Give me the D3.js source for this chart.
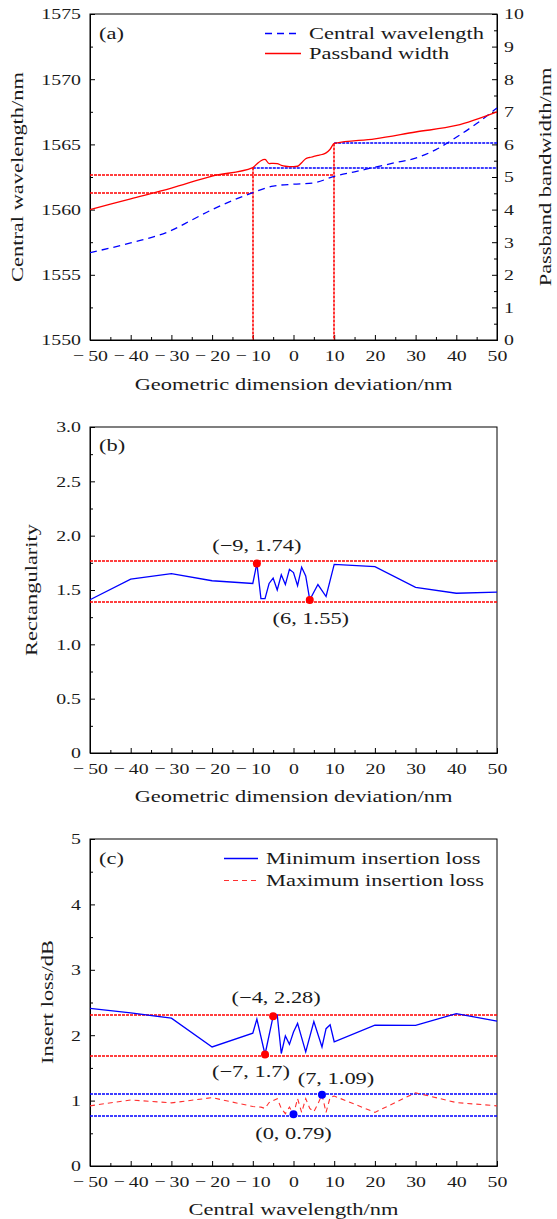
<!DOCTYPE html>
<html>
<head>
<meta charset="utf-8">
<script src="https://cdn.jsdelivr.net/npm/d3@7"></script>
<style>
body { margin: 0; background: #fff; }
svg text { font-family: "Liberation Serif", serif; font-size: 16.5px; fill: #1a1a1a; }
svg .tick text { font-size: 15.5px; }
</style>
</head>
<body>
<div id="chart"></div>
<script>

// ---- data, panel (a)
var wlX = [-50, -40, -30, -25, -20, -15, -10, -5, 0, 5, 10, 15, 20, 25, 30, 35, 40, 45, 50];
var wlY = [1556.7, 1557.45, 1558.4, 1559.2, 1560.0, 1560.7, 1561.3, 1561.8, 1561.95, 1562.05, 1562.55, 1562.9, 1563.25, 1563.6, 1563.95, 1564.6, 1565.55, 1566.6, 1567.8];
var bwX = [-50, -40, -30, -20, -10, -9, -8, -7, -6, -5, -4, -3, -2, -1, 0, 1, 2, 3, 4, 5, 6, 7, 8, 9, 10, 20, 30, 40, 50];
var bwY = [4.0, 4.33, 4.66, 5.03, 5.29, 5.40, 5.50, 5.54, 5.41, 5.42, 5.41, 5.36, 5.33, 5.32, 5.32, 5.33, 5.44, 5.56, 5.60, 5.63, 5.66, 5.69, 5.74, 5.85, 6.03, 6.17, 6.38, 6.58, 7.0];
var wlRef = [[-10, 1561.3], [10, 1562.65]];   // central wavelength at -10 / +10
var bwRef = [[-10, 5.29], [10, 6.03]];        // passband width at -10 / +10

// ---- data, panel (b)
var rcX = [-50, -40, -30, -20, -10, -9, -8, -7, -6, -5, -4, -3, -2, -1, 0, 1, 2, 3, 4, 6, 8, 10, 20, 30, 40, 50];
var rcY = [1.41, 1.60, 1.65, 1.585, 1.56, 1.745, 1.42, 1.42, 1.56, 1.61, 1.50, 1.64, 1.55, 1.69, 1.66, 1.54, 1.71, 1.63, 1.41, 1.55, 1.44, 1.735, 1.715, 1.525, 1.47, 1.48];
var rcDots = [[-9, 1.745], [4, 1.408]];
var rcDotText = ["(\u22129, 1.74)", "(6, 1.55)"];
var rcRef = [1.767, 1.392];

// ---- data, panel (c)
var minX = [-50, -40, -30, -20, -10, -9, -7, -5, -4, -3, -2, -1, 0, 1, 3, 5, 7, 8, 9, 10, 20, 30, 40, 50];
var minY = [2.41, 2.34, 2.26, 1.82, 2.03, 2.245, 1.705, 2.29, 2.31, 1.72, 1.99, 1.86, 2.05, 2.18, 1.745, 2.21, 1.82, 2.10, 2.16, 1.90, 2.155, 2.15, 2.33, 2.215];
var maxX = [-50, -40, -30, -20, -10, -8, -7, -6, -5, -4, -3, -2, -1, 0, 1, 2, 3, 4, 5, 6, 7, 8, 9, 10, 20, 30, 40, 50];
var maxY = [0.92, 1.01, 0.965, 1.045, 0.91, 0.90, 0.88, 0.97, 1.00, 1.03, 0.88, 0.80, 0.90, 0.79, 1.03, 0.82, 1.03, 0.88, 0.83, 0.95, 1.09, 0.82, 1.05, 1.07, 0.82, 1.12, 0.97, 0.92];
var minDots = [[-5, 2.29], [-7, 1.705]];
var minDotText = ["(\u22124, 2.28)", "(\u22127, 1.7)"];
var maxDots = [[7, 1.09], [0, 0.79]];
var maxDotText = ["(7, 1.09)", "(0, 0.79)"];
var minRef = [2.307, 1.68];
var maxRef = [1.108, 0.765];

// ---- ticks
var xTicks = d3.range(-50, 51, 10);
var xMinor = d3.range(-45, 50, 10);

var SX_TXT = 1.36, SX_NUM = 1.28;
var L = 90, R = 497;

var svg = d3.select("#chart").append("svg")
	.attr("width", 557)
	.attr("height", 1219);

var x = d3.scaleLinear().domain([-50, 50]).range([L, R]);

// widen text along its own direction (reference font is wide)
function stretch(sel, sx, rot) {
	sel.each(function() {
		var e = d3.select(this);
		var tx = +e.attr("x") || 0, ty = +e.attr("y") || 0;
		e.attr("x", 0).attr("y", 0)
			.attr("transform", "translate(" + tx + "," + ty + ")" + (rot ? " rotate(" + rot + ")" : "") + " scale(" + sx + ",1)");
	});
}

function label(px, py, str, anchor, rot) {
	var t = svg.append("text")
		.attr("x", px).attr("y", py)
		.attr("dy", "0.35em")
		.attr("text-anchor", anchor || "middle")
		.text(str);
	stretch(t, SX_TXT, rot);
	return t;
}

function numFmt(v) {
	return v < 0 ? "\u2212\u2009" + Math.abs(v) : "" + v;
}

function cleanAxis(g) {
	g.attr("font-family", null).attr("font-size", null);
	g.selectAll("line").attr("stroke", "#000");
	g.select(".domain").attr("stroke", "#000");
}

function panel(top, bottom, y, yTicks, yMinor, yFmt) {
	svg.append("rect")
		.attr("x", L).attr("y", top)
		.attr("width", R - L).attr("height", bottom - top)
		.attr("fill", "none").attr("stroke", "#000").attr("stroke-width", 1);

	var gx = svg.append("g").attr("transform", "translate(0," + bottom + ")")
		.call(d3.axisBottom(x).tickValues(xTicks).tickSize(-5).tickSizeOuter(0).tickPadding(10).tickFormat(numFmt));
	cleanAxis(gx);
	stretch(gx.selectAll("text"), SX_NUM);
	var gx2 = svg.append("g").attr("transform", "translate(0," + bottom + ")")
		.call(d3.axisBottom(x).tickValues(xMinor).tickSize(-3).tickSizeOuter(0).tickFormat(""));
	cleanAxis(gx2);

	var gy = svg.append("g").attr("transform", "translate(" + L + ",0)")
		.call(d3.axisLeft(y).tickValues(yTicks).tickSize(-5).tickSizeOuter(0).tickPadding(9).tickFormat(yFmt));
	cleanAxis(gy);
	stretch(gy.selectAll("text"), SX_NUM);
	var gy2 = svg.append("g").attr("transform", "translate(" + L + ",0)")
		.call(d3.axisLeft(y).tickValues(yMinor).tickSize(-3).tickSizeOuter(0).tickFormat(""));
	cleanAxis(gy2);
}

function hline(y, v, x0, x1, color) {
	svg.append("line")
		.attr("x1", x(x0)).attr("x2", x(x1))
		.attr("y1", Math.round(y(v))).attr("y2", Math.round(y(v)))
		.attr("stroke", color).attr("stroke-width", 1.6)
		.attr("stroke-dasharray", "3,1");
}

function zip(a, b) {
	return a.map(function(d, i) { return [d, b[i]]; });
}

// ================= panel (a)
var yWl = d3.scaleLinear().domain([1550, 1575]).range([340, 14]);
var yBw = d3.scaleLinear().domain([0, 10]).range([340, 14]);

panel(14, 340, yWl, d3.range(1550, 1576, 5), d3.range(1552.5, 1575, 5), function(d) { return d; });

var gr = svg.append("g").attr("transform", "translate(" + R + ",0)")
	.call(d3.axisRight(yBw).tickValues(d3.range(0, 11, 1)).tickSize(-5).tickSizeOuter(0).tickPadding(7));
cleanAxis(gr);
stretch(gr.selectAll("text"), SX_NUM);
var gr2 = svg.append("g").attr("transform", "translate(" + R + ",0)")
	.call(d3.axisRight(yBw).tickValues(d3.range(0.5, 10, 1)).tickSize(-3).tickSizeOuter(0).tickFormat(""));
cleanAxis(gr2);

// reference lines
hline(yWl, wlRef[0][1], -50, wlRef[0][0], "#ff0000");
hline(yWl, wlRef[1][1], -50, wlRef[1][0], "#ff0000");
hline(yBw, bwRef[0][1], bwRef[0][0], 50, "#0000ff");
hline(yBw, bwRef[1][1], bwRef[1][0], 50, "#0000ff");
bwRef.forEach(function(d) {
	svg.append("line")
		.attr("x1", Math.round(x(d[0]))).attr("x2", Math.round(x(d[0])))
		.attr("y1", yBw(d[1])).attr("y2", 340)
		.attr("stroke", "#ff0000").attr("stroke-width", 1.6)
		.attr("stroke-dasharray", "3,1");
});

svg.append("path")
	.datum(zip(wlX, wlY))
	.attr("fill", "none").attr("stroke", "#0000ff").attr("stroke-width", 1.3)
	.attr("stroke-dasharray", "7,5")
	.attr("d", d3.line().x(function(d) { return x(d[0]); }).y(function(d) { return yWl(d[1]); }).curve(d3.curveMonotoneX));

svg.append("path")
	.datum(zip(bwX, bwY))
	.attr("fill", "none").attr("stroke", "#ff0000").attr("stroke-width", 1.3)
	.attr("d", d3.line().x(function(d) { return x(d[0]); }).y(function(d) { return yBw(d[1]); }).curve(d3.curveMonotoneX));

// legend (a)
svg.append("line").attr("x1", 265).attr("x2", 301).attr("y1", 33.5).attr("y2", 33.5)
	.attr("stroke", "#0000ff").attr("stroke-width", 1.3).attr("stroke-dasharray", "7,5");
svg.append("line").attr("x1", 265).attr("x2", 301).attr("y1", 53.5).attr("y2", 53.5)
	.attr("stroke", "#ff0000").attr("stroke-width", 1.3);
label(309, 33, "Central wavelength", "start");
label(309, 53, "Passband width", "start");
label(99, 33, "(a)", "start");

label((L + R) / 2, 384, "Geometric dimension deviation/nm");
label(17, 177, "Central wavelength/nm", "middle", -90);
label(545, 177, "Passband bandwidth/nm", "middle", -90);

// ================= panel (b)
var yRc = d3.scaleLinear().domain([0, 3]).range([753, 427]);
panel(427, 753, yRc, d3.range(0, 3.01, 0.5), d3.range(0.25, 3, 0.5), function(d) { return d === 0 ? "0" : d.toFixed(1); });

rcRef.forEach(function(v) { hline(yRc, v, -50, 50, "#ff0000"); });

svg.append("path")
	.datum(zip(rcX, rcY))
	.attr("fill", "none").attr("stroke", "#0000ff").attr("stroke-width", 1.3)
	.attr("d", d3.line().x(function(d) { return x(d[0]); }).y(function(d) { return yRc(d[1]); }));

svg.selectAll("circle.rc").data(rcDots).enter().append("circle")
	.attr("cx", function(d) { return x(d[0]); })
	.attr("cy", function(d) { return yRc(d[1]); })
	.attr("r", 4).attr("fill", "#ff0000");

label(x(rcDots[0][0]), yRc(rcDots[0][1]) - 18, rcDotText[0]);
label(x(rcDots[1][0]) + 1, yRc(rcDots[1][1]) + 18, rcDotText[1]);
label(99, 445, "(b)", "start");

label((L + R) / 2, 796, "Geometric dimension deviation/nm");
label(31, 590, "Rectangularity", "middle", -90);

// ================= panel (c)
var yIl = d3.scaleLinear().domain([0, 5]).range([1166, 839]);
panel(839, 1166, yIl, d3.range(0, 6, 1), d3.range(0.5, 5, 1), function(d) { return d; });

minRef.forEach(function(v) { hline(yIl, v, -50, 50, "#ff0000"); });
maxRef.forEach(function(v) { hline(yIl, v, -50, 50, "#0000ff"); });

svg.append("path")
	.datum(zip(minX, minY))
	.attr("fill", "none").attr("stroke", "#0000ff").attr("stroke-width", 1.3)
	.attr("d", d3.line().x(function(d) { return x(d[0]); }).y(function(d) { return yIl(d[1]); }));

svg.append("path")
	.datum(zip(maxX, maxY))
	.attr("fill", "none").attr("stroke", "#ff3030").attr("stroke-width", 1.1)
	.attr("stroke-dasharray", "5,4")
	.attr("d", d3.line().x(function(d) { return x(d[0]); }).y(function(d) { return yIl(d[1]); }));

svg.selectAll("circle.mn").data(minDots).enter().append("circle")
	.attr("cx", function(d) { return x(d[0]); })
	.attr("cy", function(d) { return yIl(d[1]); })
	.attr("r", 4).attr("fill", "#ff0000");
svg.selectAll("circle.mx").data(maxDots).enter().append("circle")
	.attr("cx", function(d) { return x(d[0]); })
	.attr("cy", function(d) { return yIl(d[1]); })
	.attr("r", 4).attr("fill", "#0000ff");

label(x(minDots[0][0]) + 3, yIl(minDots[0][1]) - 19, minDotText[0]);
label(x(minDots[1][0]) - 14, yIl(minDots[1][1]) + 17, minDotText[1]);
label(x(maxDots[0][0]) + 14, yIl(maxDots[0][1]) - 16, maxDotText[0]);
label(x(maxDots[1][0]), yIl(maxDots[1][1]) + 19, maxDotText[1]);

// legend (c)
svg.append("line").attr("x1", 224).attr("x2", 258).attr("y1", 858.5).attr("y2", 858.5)
	.attr("stroke", "#0000ff").attr("stroke-width", 1.3);
svg.append("line").attr("x1", 224).attr("x2", 258).attr("y1", 880.5).attr("y2", 880.5)
	.attr("stroke", "#ff3030").attr("stroke-width", 1.1).attr("stroke-dasharray", "5,4");
label(266, 858, "Minimum insertion loss", "start");
label(266, 880, "Maximum insertion loss", "start");
label(99, 858, "(c)", "start");

label((L + R) / 2, 1209, "Central wavelength/nm");
label(47, 1002, "Insert loss/dB", "middle", -90);

</script>
</body>
</html>
